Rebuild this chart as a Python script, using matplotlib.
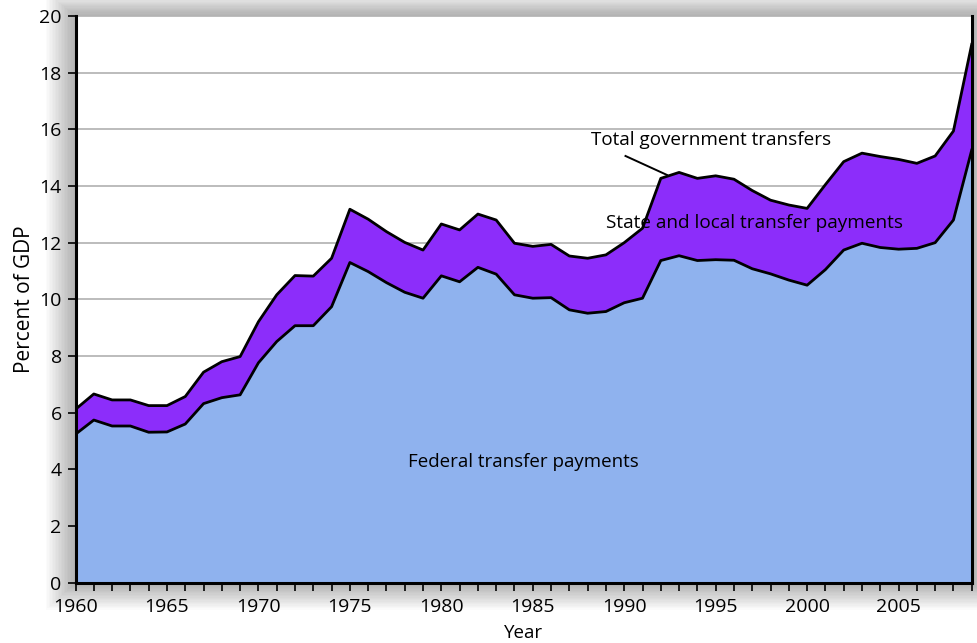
import numpy as np
import matplotlib
matplotlib.use('Agg')
import matplotlib.pyplot as plt
from matplotlib.ticker import MultipleLocator
import matplotlib.patches as patches

plt.rcParams.update({
    'font.family': ['Open Sans', 'DejaVu Sans'],
    'font.size': 13,
})

years = list(range(1960, 2010))

# federal transfer payments, % of GDP
federal = [5.24, 5.74, 5.53, 5.53, 5.31, 5.32, 5.60, 6.32, 6.53, 6.63,
           7.76, 8.51, 9.07, 9.07, 9.74, 11.30, 10.98, 10.59, 10.25, 10.04,
           10.83, 10.62, 11.13, 10.89, 10.16, 10.04, 10.06, 9.63, 9.51, 9.57,
           9.88, 10.04, 11.37, 11.54, 11.37, 11.40, 11.38, 11.08, 10.90, 10.68,
           10.50, 11.05, 11.74, 11.98, 11.83, 11.77, 11.80, 12.00, 12.80, 15.27]

# total government transfers, % of GDP
total = [6.12, 6.66, 6.45, 6.45, 6.25, 6.25, 6.57, 7.43, 7.80, 7.98,
         9.21, 10.16, 10.84, 10.82, 11.45, 13.18, 12.83, 12.39, 12.01, 11.74,
         12.66, 12.45, 13.01, 12.80, 11.98, 11.87, 11.94, 11.53, 11.45, 11.57,
         12.00, 12.51, 14.27, 14.48, 14.27, 14.36, 14.24, 13.84, 13.50, 13.33,
         13.21, 14.05, 14.86, 15.16, 15.04, 14.94, 14.80, 15.06, 15.94, 19.00]

x_ticks = [1960, 1965, 1970, 1975, 1980, 1985, 1990, 1995, 2000, 2005]
y_ticks = [0, 2, 4, 6, 8, 10, 12, 14, 16, 18, 20]

fig = plt.figure(figsize=(9.77, 6.43), dpi=100)
ax = fig.add_axes([0.0773, 0.0938, 0.9173, 0.8813])

# soft drop shadow around the plot area
W, H = 977.0, 643.0
x0, y0 = 0.0773 * W, 0.0938 * H
w, h = 0.9173 * W, 0.8813 * H
for i in range(20, 0, -1):
    d = 1.5 * i
    r = patches.Rectangle(((x0 - d) / W, (y0 - d * 0.9) / H),
                          (w + 2 * d) / W, (h + d * 1.7) / H,
                          transform=fig.transFigure, facecolor='black',
                          edgecolor='none', alpha=0.017, zorder=-5)
    fig.patches.append(r)

ax.set_facecolor('white')
ax.fill_between(years, 0, federal, color='#8FB2EE', linewidth=0, zorder=2)
ax.fill_between(years, federal, total, color='#8C2DFA', linewidth=0, zorder=2)
ax.plot(years, federal, color='black', linewidth=2.0, zorder=3)
ax.plot(years, total, color='black', linewidth=2.0, zorder=3)

ax.set_xlim(1960, 2009)
ax.set_ylim(0, 20)
ax.set_xticks(x_ticks)
ax.xaxis.set_minor_locator(MultipleLocator(1))
ax.set_yticks(y_ticks)
ax.yaxis.grid(True, color='#b0b0b0', linewidth=1.2, zorder=1)
ax.set_axisbelow(True)

for side in ['left', 'bottom', 'right']:
    ax.spines[side].set_linewidth(2.2)
    ax.spines[side].set_color('black')
    ax.spines[side].set_zorder(4)
ax.spines['top'].set_visible(False)

ax.tick_params(axis='both', which='both', direction='out', length=6, width=1.2,
               labelsize=14)
ax.tick_params(axis='x', which='both', pad=5)
ax.tick_params(axis='y', pad=4)

ax.set_xlabel('Year', fontsize=13.5, labelpad=6)
ax.set_ylabel('Percent of GDP', fontsize=15, labelpad=3)

ax.text(1988.2, 15.63, 'Total government transfers', fontsize=13.6,
        ha='left', va='center', zorder=5)
ax.plot([1990.07, 1992.34], [15.06, 14.39], color='black', linewidth=1.4, zorder=5)
ax.text(1989.0, 12.69, 'State and local transfer payments', fontsize=13.7,
        ha='left', va='center', zorder=5)
ax.text(1978.2, 4.25, 'Federal transfer payments', fontsize=13.5,
        ha='left', va='center', zorder=5)

fig.savefig('out.png', dpi=100)
